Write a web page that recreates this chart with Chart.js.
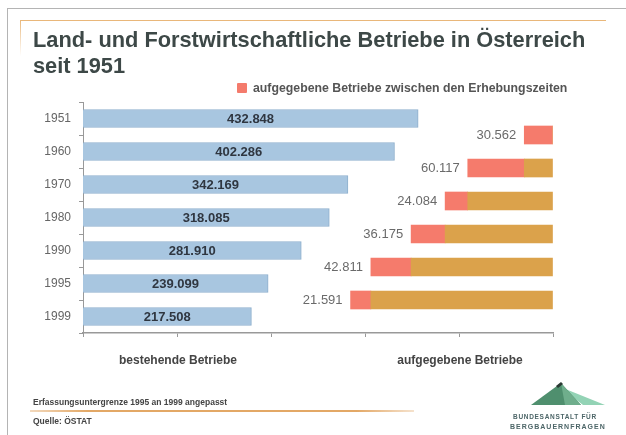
<!DOCTYPE html>
<html lang="de">
<head>
<meta charset="utf-8">
<title>Land- und Forstwirtschaftliche Betriebe in Österreich seit 1951</title>
<script src="https://cdn.jsdelivr.net/npm/chart.js@4.4.1/dist/chart.umd.min.js"></script>
<style>
  html, body { margin: 0; padding: 0; background: #fff; }
  body { width: 626px; height: 435px; position: relative; overflow: hidden;
         font-family: "Liberation Sans", Arial, sans-serif; }
  #chart { position: absolute; left: 0; top: 0; }
  .abs { position: absolute; }
  .frameTop { left: 7px; top: 8px; right: 0; height: 1px; background: #b4b4b4; }
  .frameLeft { left: 7px; top: 8px; bottom: 0; width: 1px; background: #b4b4b4; }
  .orTop { left: 20px; top: 20px; width: 586px; height: 1px; background: #e9b77a; }
  .orLeft { left: 20px; top: 20px; width: 1px; height: 36px;
            background: linear-gradient(#e9b77a, rgba(233,183,122,0)); }
  .title { left: 33px; top: 27px; font-size: 21.8px; line-height: 26px; font-weight: bold; color: #3d4847; }
  .legSq { left: 237px; top: 83px; width: 10px; height: 10px; background: #f47b6c; border-radius: 1px; }
  .legTx { left: 253px; top: 81px; font-size: 12.3px; line-height: 14px; font-weight: bold; color: #555; }
  .axT { top: 353px; width: 200px; text-align: center; font-size: 12px; line-height: 14px; font-weight: bold; color: #444; }
  .foot { left: 33px; font-size: 8.5px; line-height: 10px; font-weight: bold; color: #444; }
  .footLine { left: 30px; top: 410px; width: 384px; height: 2px;
              background: linear-gradient(90deg, rgba(224,160,90,0.4), #e3a866 15%, #e3a866 85%, rgba(224,160,90,0.3)); }
  .logoTx { font-size: 6.5px; line-height: 8px; color: #4d6668; white-space: nowrap; font-weight: bold; }
</style>
</head>
<body>
<canvas id="chart" width="626" height="435"></canvas>

<div class="abs frameTop"></div>
<div class="abs frameLeft"></div>
<div class="abs orTop"></div>
<div class="abs orLeft"></div>

<div class="abs title">Land- und Forstwirtschaftliche Betriebe in Österreich<br>seit 1951</div>

<div class="abs legSq"></div>
<div class="abs legTx">aufgegebene Betriebe zwischen den Erhebungszeiten</div>

<div class="abs axT" style="left:78px">bestehende Betriebe</div>
<div class="abs axT" style="left:360px">aufgegebene Betriebe</div>

<div class="abs foot" style="top:397px">Erfassungsuntergrenze 1995 an 1999 angepasst</div>
<div class="abs footLine"></div>
<div class="abs foot" style="top:416px">Quelle: ÖSTAT</div>

<svg class="abs" style="left:525px;top:378px" width="85" height="30" viewBox="0 0 85 30">
  <polygon points="33,8 58,27 80,27" fill="#93d3b5"/>
  <polygon points="6,27 36,5 56,27" fill="#4f8f6e"/>
  <polygon points="36,5 44,14 56,27 40,27" fill="#6fae8c"/>
  <polygon points="31,8 36,4 38,6 33,10" fill="#2a3a33"/>
</svg>
<div class="abs logoTx" style="left:513px;top:413px;letter-spacing:0.7px">BUNDESANSTALT FÜR</div>
<div class="abs logoTx" style="left:510px;top:423px;font-size:7px;letter-spacing:1px">BERGBAUERNFRAGEN</div>

<script>
// Erhebungsjahre
const years = ['1951', '1960', '1970', '1980', '1990', '1995', '1999'];
// bestehende Betriebe je Erhebung
const existing = [432848, 402286, 342169, 318085, 281910, 239099, 217508];
// aufgegebene Betriebe zwischen zwei Erhebungen
const abandoned = [30562, 60117, 24084, 36175, 42811, 21591];
// bereits vorher aufgegebene Betriebe (seit 1951)
const abandonedBefore = [0, 30562, 90679, 114763, 150938, 193749];
// Skala rechts
const rightTickStep = 100000;

function fmt(v){
  return String(v).replace(/\B(?=(\d{3})+(?!\d))/g, '.');
}

const valueLabels = {
  id: 'valueLabels',
  afterDatasetsDraw(chart){
    const ctx = chart.ctx;
    ctx.save();
    ctx.textBaseline = 'middle';
    ctx.font = 'bold 13px "Liberation Sans", Arial, sans-serif';
    ctx.fillStyle = '#2f3640';
    ctx.textAlign = 'center';
    chart.getDatasetMeta(0).data.forEach((bar, i) => {
      ctx.fillText(fmt(existing[i]), (bar.x + bar.base) / 2, bar.y + 1);
    });
    ctx.font = '13px "Liberation Sans", Arial, sans-serif';
    ctx.fillStyle = '#6a6a6a';
    ctx.textAlign = 'right';
    chart.getDatasetMeta(2).data.forEach((bar, i) => {
      ctx.fillText(fmt(abandoned[i]), Math.min(bar.x, bar.base) - 8, bar.y);
    });
    ctx.restore();
  }
};

new Chart(document.getElementById('chart'), {
  type: 'bar',
  data: {
    datasets: [
      {
        label: 'bestehende Betriebe',
        data: existing.map((v, i) => ({ x: v, y: i })),
        xAxisID: 'x',
        backgroundColor: '#a8c6e0',
        borderColor: '#8fb0cd',
        borderWidth: 1,
        barThickness: 18,
        grouped: false
      },
      {
        label: 'vorher aufgegeben',
        data: abandonedBefore.map((v, i) => ({ x: v, y: i + 0.5 })),
        xAxisID: 'x2',
        backgroundColor: '#dba24b',
        borderWidth: 0,
        barThickness: 18,
        grouped: false
      },
      {
        label: 'aufgegebene Betriebe zwischen den Erhebungszeiten',
        data: abandoned.map((v, i) => ({ x: v, y: i + 0.5 })),
        xAxisID: 'x2',
        backgroundColor: '#f57b6c',
        borderWidth: 0,
        barThickness: 18,
        grouped: false
      }
    ]
  },
  options: {
    indexAxis: 'y',
    responsive: false,
    animation: false,
    layout: { padding: { left: 0, top: 102, right: 73, bottom: 92 } },
    plugins: { legend: { display: false }, tooltip: { enabled: false } },
    scales: {
      y: {
        type: 'linear',
        reverse: true,
        offset: false,
        min: -0.5,
        max: 6.5,
        afterBuildTicks: scale => {
          const t = [];
          for(let v = -0.5; v <= years.length - 0.5; v += 0.5) t.push({ value: v });
          scale.ticks = t;
        },
        afterFit: scale => { scale.width = 83; },
        ticks: {
          autoSkip: false,
          padding: 8,
          color: '#666',
          font: { family: '"Liberation Sans", Arial, sans-serif', size: 12 },
          callback: v => Number.isInteger(v) ? years[v] : ''
        },
        grid: {
          offset: false,
          drawOnChartArea: false,
          tickLength: 4,
          tickColor: ctx => (ctx.tick && Number.isInteger(ctx.tick.value)) ? 'rgba(0,0,0,0)' : '#999'
        },
        border: { color: '#999' }
      },
      x: {
        type: 'linear',
        display: false,
        stacked: false,
        min: 0,
        max: 607000
      },
      x2: {
        type: 'linear',
        position: 'bottom',
        stacked: true,
        reverse: true,
        min: 0,
        max: 500000,
        afterFit: scale => { scale.height = 10; },
        ticks: { stepSize: rightTickStep, display: false },
        grid: { drawOnChartArea: false, tickLength: 4, tickColor: '#999' },
        border: { color: '#999', width: 1.5 }
      }
    }
  },
  plugins: [valueLabels]
});
</script>
</body>
</html>
